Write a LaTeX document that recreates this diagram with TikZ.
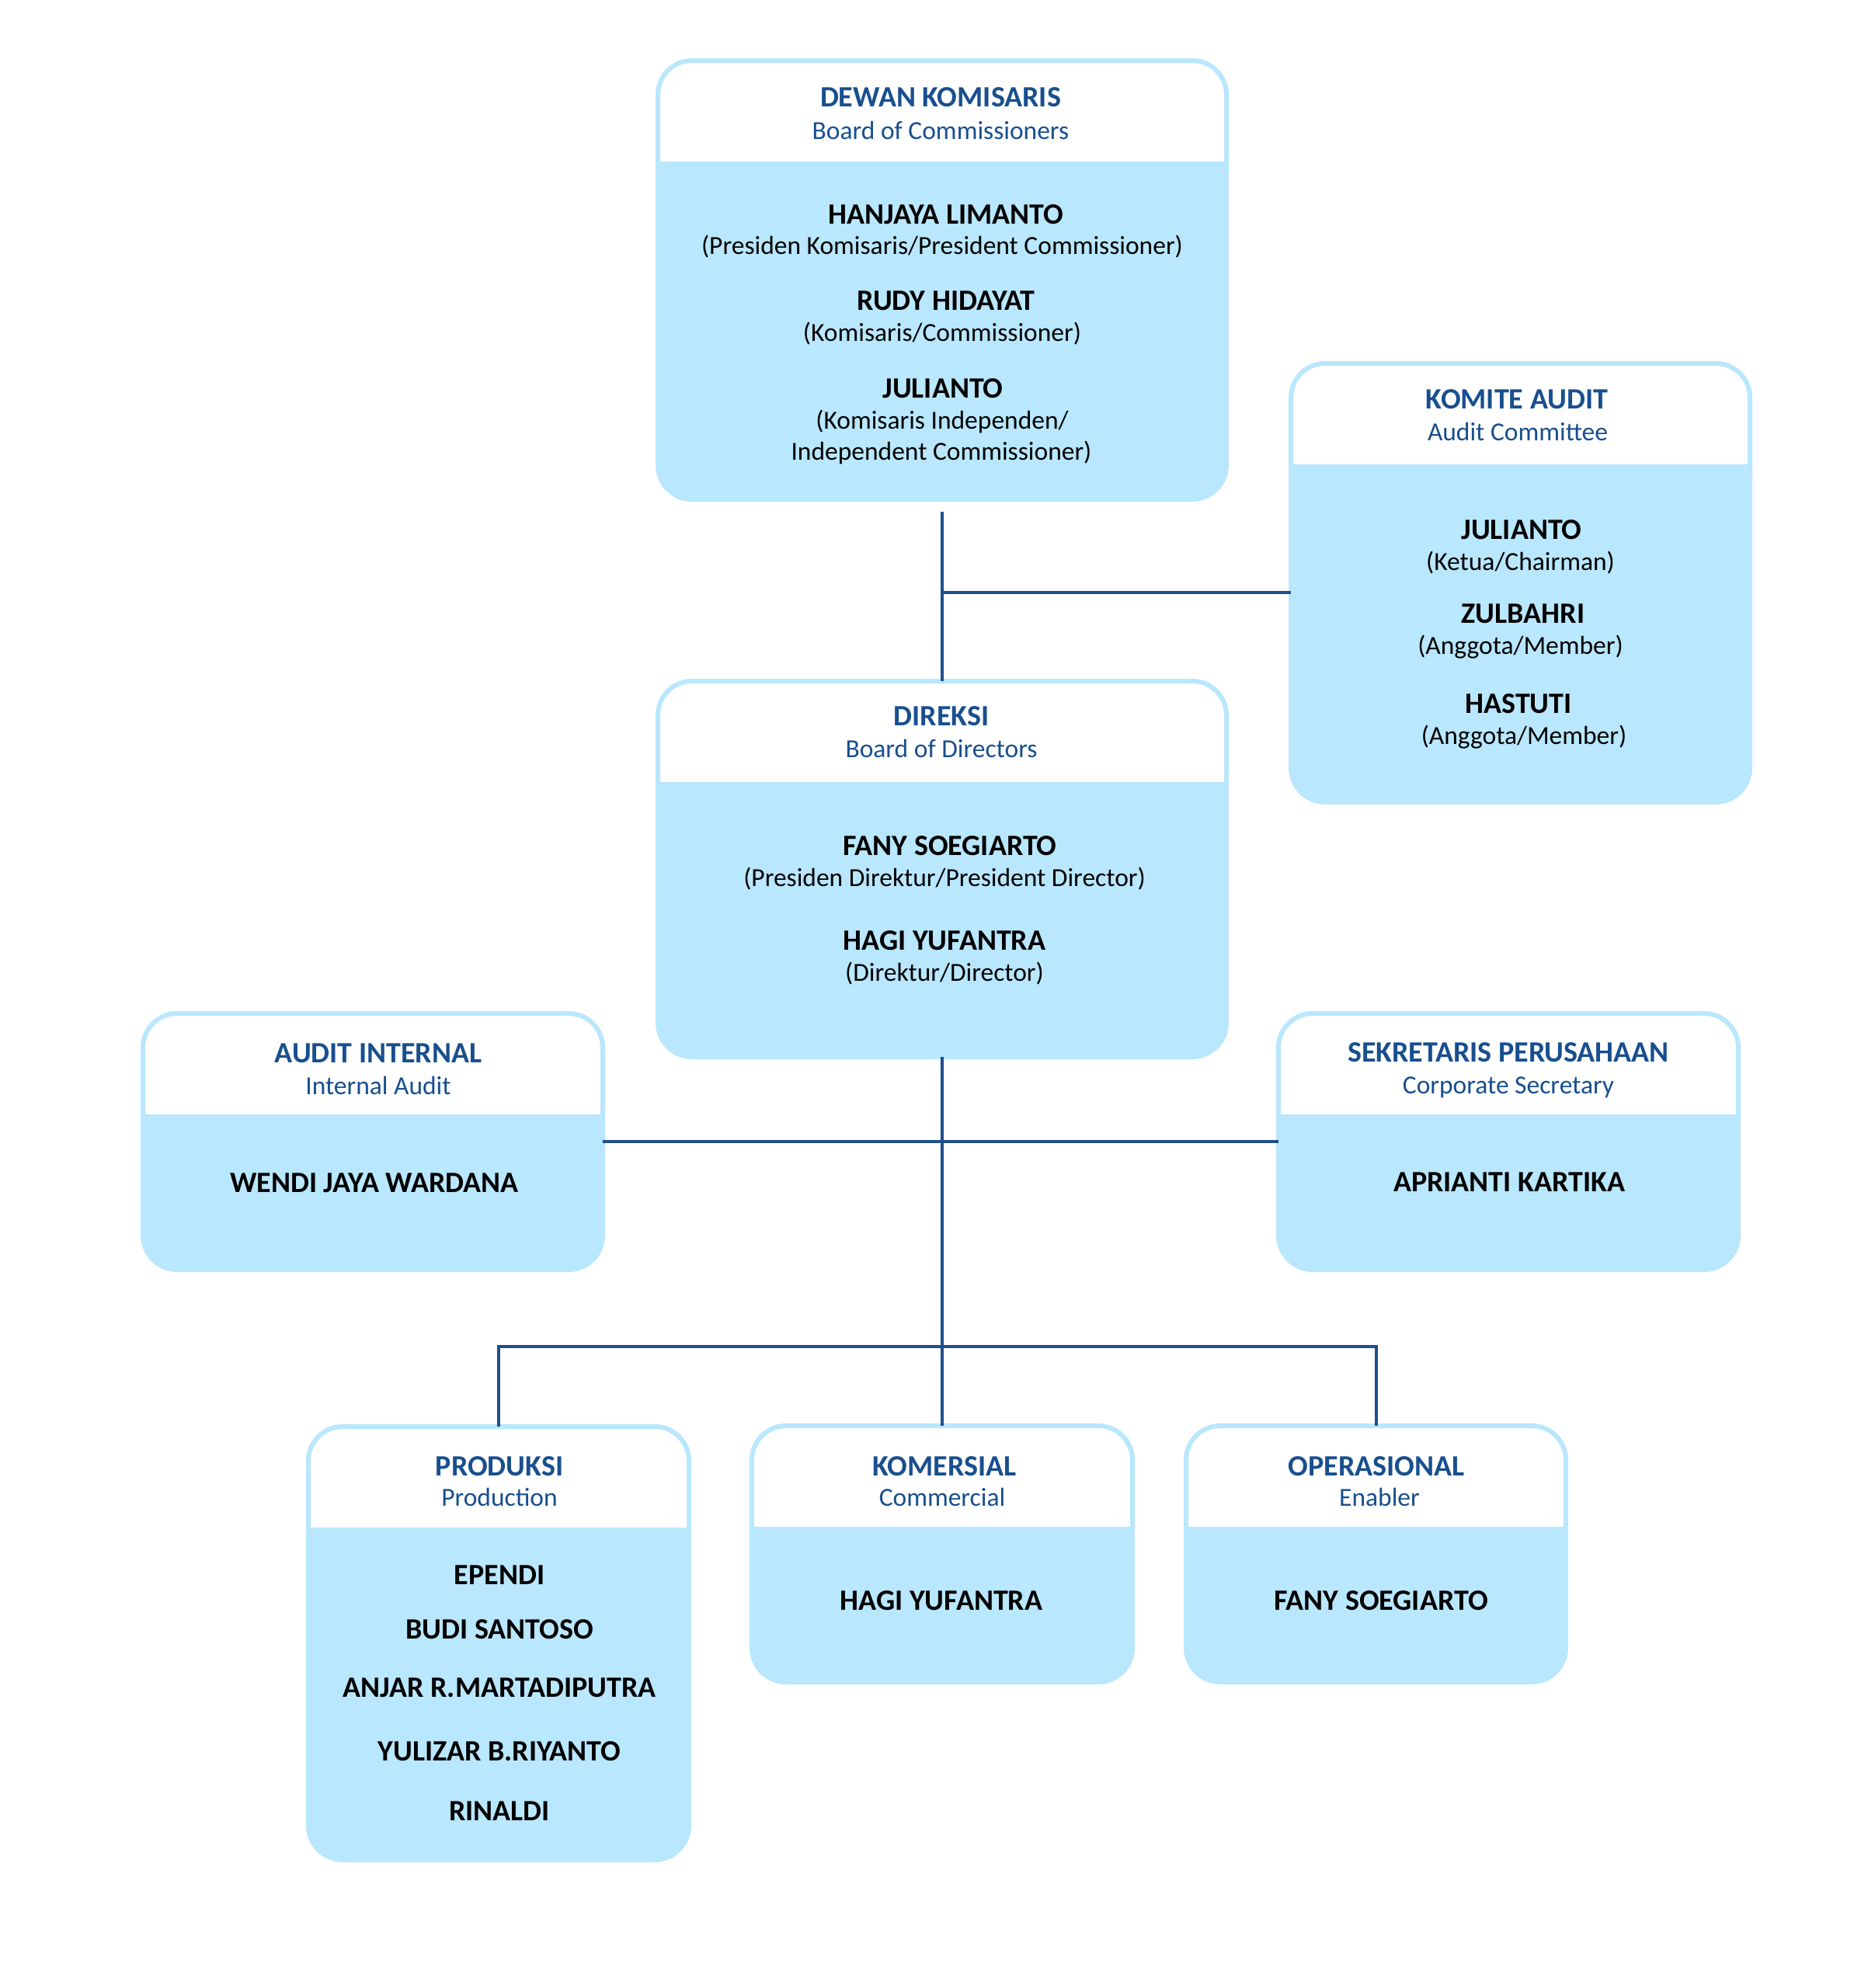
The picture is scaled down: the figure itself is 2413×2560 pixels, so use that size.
\documentclass[tikz,border=0pt]{standalone}
\usepackage{fontspec}
\setmainfont{Carlito}
\definecolor{boxblue}{HTML}{B9E7FD}
\definecolor{ttlblue}{HTML}{184F8E}
\definecolor{lineblue}{HTML}{1F4F8D}
\tikzset{
  orgbox/.style={rounded corners=44pt, fill=boxblue, draw=boxblue, line width=6pt,
    inner sep=0pt, outer sep=0pt,
    path picture={\fill[white, sharp corners] (path picture bounding box.north west) rectangle ([yshift=-130pt]path picture bounding box.north east);}},
  ttl/.style={anchor=base, inner sep=0pt, text=ttlblue, font=\fontsize{38}{46}\selectfont\bfseries},
  sub/.style={anchor=base, inner sep=0pt, text=ttlblue, font=\fontsize{33.5}{40}\selectfont},
  nm/.style={anchor=base, inner sep=0pt, text=black, font=\fontsize{38}{46}\selectfont\bfseries},
  rl/.style={anchor=base, inner sep=0pt, text=black, font=\fontsize{33.5}{40}\selectfont},
  conn/.style={draw=lineblue, line width=4pt}
}
\begin{document}
\begin{tikzpicture}[x=1pt,y=-1pt]
\useasboundingbox[fill=white] (0,0) rectangle (2413,2560);
% boxes
\node[orgbox, minimum width=732pt, minimum height=565pt] (dewan) at (1213,360.5) {};
\node[orgbox, minimum width=591pt, minimum height=565pt] (komite) at (1957.5,750.5) {};
\node[orgbox, minimum width=732pt, minimum height=484pt] (direksi) at (1213,1119) {};
\node[orgbox, minimum width=592pt, minimum height=330pt] (audit) at (480,1470) {};
\node[orgbox, minimum width=592pt, minimum height=330pt] (sekr) at (1942,1470) {};
\node[orgbox, minimum width=490pt, minimum height=558pt] (produksi) at (642,2116) {};
\node[orgbox, minimum width=490pt, minimum height=330pt] (komersial) at (1213,2001) {};
\node[orgbox, minimum width=489pt, minimum height=330pt] (operasional) at (1771.5,2001) {};
% connectors
\coordinate (c1) at (1213,659);
\coordinate (c2) at (1213,763);
\coordinate (c3) at (1213,1734);
\draw[conn] (c1) -- (direksi.north);
\draw[conn] (c2) -- (c2 -| komite.west);
\draw[conn] (direksi.south) -- (komersial.north);
\draw[conn] (audit.east) -- (sekr.west);
\draw[conn] (produksi.north) -- (produksi.north |- c3) -- (operasional.north |- c3) -- (operasional.north);
% Dewan Komisaris
\node[ttl] (t1) at (1211,137) {DEWAN KOMISARIS};
\node[sub] (s1) at (1211,179) {Board of Commissioners};
\node[nm] (n11) at (1218,288) {HANJAYA LIMANTO};
\node[rl] (r11) at (1213,327) {(Presiden Komisaris/President Commissioner)};
\node[nm] (n12) at (1218,399) {RUDY HIDAYAT};
\node[rl] (r12) at (1213,439) {(Komisaris/Commissioner)};
\node[nm] (n13) at (1214,512) {JULIANTO};
\node[rl] (r13) at (1213,552) {(Komisaris Independen/};
\node[rl] (r14) at (1212,592) {Independent Commissioner)};
% Komite Audit
\node[ttl] (t2) at (1953,526) {KOMITE AUDIT};
\node[sub] (s2) at (1954,567) {Audit Committee};
\node[nm] (n21) at (1959,694) {JULIANTO};
\node[rl] (r21) at (1957.5,734) {(Ketua/Chairman)};
\node[nm] (n22) at (1961,802) {ZULBAHRI};
\node[rl] (r22) at (1957.5,842) {(Anggota/Member)};
\node[nm] (n23) at (1955,918) {HASTUTI};
\node[rl] (r23) at (1962,958) {(Anggota/Member)};
% Direksi
\node[ttl] (t3) at (1212,934) {DIREKSI};
\node[sub] (s3) at (1212,975) {Board of Directors};
\node[nm] (n31) at (1223,1101) {FANY SOEGIARTO};
\node[rl] (r31) at (1216,1141) {(Presiden Direktur/President Director)};
\node[nm] (n32) at (1216,1223) {HAGI YUFANTRA};
\node[rl] (r32) at (1216,1263) {(Direktur/Director)};
% Audit Internal
\node[ttl] (t4) at (487,1368) {AUDIT INTERNAL};
\node[sub] (s4) at (487,1409) {Internal Audit};
\node[nm] (n41) at (482,1535) {WENDI JAYA WARDANA};
% Sekretaris
\node[ttl] (t5) at (1942,1367) {SEKRETARIS PERUSAHAAN};
\node[sub] (s5) at (1942,1408) {Corporate Secretary};
\node[nm] (n51) at (1943,1534) {APRIANTI KARTIKA};
% Produksi
\node[ttl] (t6) at (643,1900) {PRODUKSI};
\node[sub] (s6) at (643,1939) {Production};
\node[nm] (n61) at (643,2040) {EPENDI};
\node[nm] (n62) at (643,2110) {BUDI SANTOSO};
\node[nm] (n63) at (643,2185) {ANJAR R.MARTADIPUTRA};
\node[nm] (n64) at (643,2267) {YULIZAR B.RIYANTO};
\node[nm] (n65) at (643,2344) {RINALDI};
% Komersial
\node[ttl] (t7) at (1216,1900) {KOMERSIAL};
\node[sub] (s7) at (1213,1939) {Commercial};
\node[nm] (n71) at (1212,2073) {HAGI YUFANTRA};
% Operasional
\node[ttl] (t8) at (1772,1900) {OPERASIONAL};
\node[sub] (s8) at (1776,1939) {Enabler};
\node[nm] (n81) at (1778,2073) {FANY SOEGIARTO};
\end{tikzpicture}
\end{document}
